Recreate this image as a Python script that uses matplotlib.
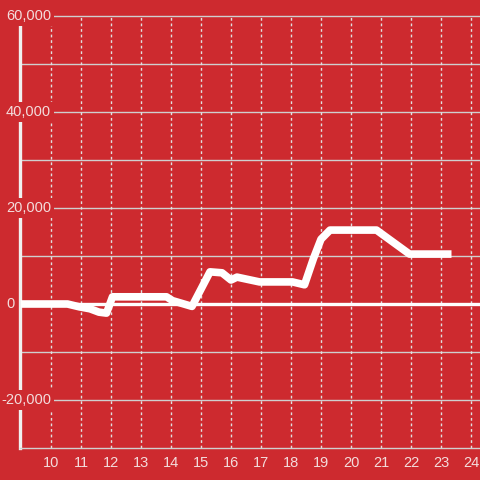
import matplotlib
matplotlib.use("Agg")
import matplotlib.pyplot as plt
import matplotlib.transforms as mtransforms

plt.rcParams['font.family'] = ['Liberation Sans', 'DejaVu Sans']

hours = [9.0, 10.55, 10.95, 11.3, 11.6, 11.85, 12.05, 13.85, 14.05, 14.7, 15.3, 15.7,
         16.0, 16.2, 16.95, 18.05, 18.45, 18.75, 19.0, 19.3, 20.85, 21.95, 23.35]
values = [0, 0, -600, -1000, -1700, -1900, 1500, 1500, 700, -500, 6700, 6500,
          5000, 5600, 4600, 4600, 4000, 9500, 13500, 15400, 15400, 10400, 10400]

x_ticks = list(range(10, 25))
y_ticks = [-20000, 0, 20000, 40000, 60000]
y_labels = ["-20,000", "0", "20,000", "40,000", "60,000"]

BG = "#cd2a2f"
TXT = "#f3dcdc"

fig = plt.figure(figsize=(4.8, 4.8), dpi=100, facecolor=BG)
ax = fig.add_axes([20/480, 32/480, 460/480, 432/480])
ax.set_facecolor(BG)
ax.set_xlim(9 - 1/30, 24.3)
ax.set_ylim(-30000, 60000)

# horizontal gridlines
for v in range(-20000, 60001, 10000):
    if v == 0:
        continue
    ax.axhline(v, color="#cfcfcf", lw=1.0, zorder=1, clip_on=False)
# vertical dotted gridlines
for t in x_ticks:
    ax.axvline(t, color="#e0e0e0", lw=1.0, ls=(0, (2, 2)), zorder=1)
# zero line
ax.axhline(0, color="white", lw=2.4, zorder=2)

ax.plot(hours, values, color="white", lw=5.5, solid_joinstyle="round",
        solid_capstyle="butt", zorder=3)

for s in ["top", "right"]:
    ax.spines[s].set_visible(False)
ax.spines["left"].set_color("#f0f0f0")
ax.spines["left"].set_linewidth(2.4)
ax.spines["bottom"].set_color("#d0d0d0")
ax.spines["bottom"].set_linewidth(1.0)

ax.set_xticks(x_ticks)
ax.set_xticklabels([str(t) for t in x_ticks])
ax.tick_params(axis="x", length=0, colors=TXT, labelsize=10.5, pad=6)
ax.set_yticks([])

trans = mtransforms.blended_transform_factory(ax.transAxes, ax.transData)
off = mtransforms.offset_copy(trans, fig=fig, x=-14, y=0, units="dots")
for v, lab in zip(y_ticks, y_labels):
    xo = -5 if lab.startswith("-") else 0
    tr = mtransforms.offset_copy(off, fig=fig, x=xo, y=0, units="dots")
    ax.text(0, v, lab, transform=tr, ha="left", va="center", color=TXT,
            fontsize=10.5, zorder=10, clip_on=False,
            bbox=dict(facecolor=BG, edgecolor="none", pad=2.0))

fig.savefig("out.png", dpi=100, facecolor=BG)
